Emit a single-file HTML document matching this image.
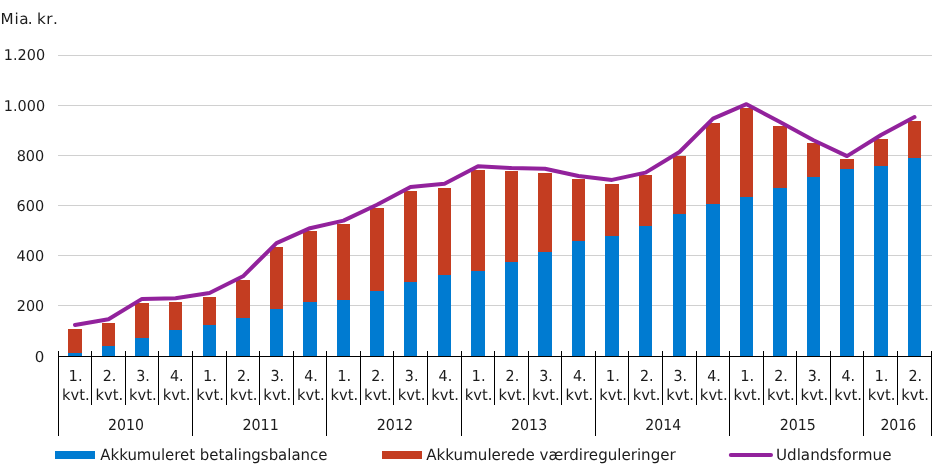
<!DOCTYPE html>
<html lang="da"><head><meta charset="utf-8"><title>Udlandsformue</title>
<style>html,body{margin:0;padding:0;background:#fff}svg{display:block}text{font-family:"DejaVu Sans","Liberation Sans",sans-serif;font-size:15.2px;fill:#1c1c1c;text-rendering:geometricPrecision}</style></head><body>
<svg width="940" height="473" viewBox="0 0 940 473">
<rect width="940" height="473" fill="#fff"/>
<g fill="#d0d0d0" shape-rendering="crispEdges">
<rect x="58" y="55" width="874" height="1"/>
<rect x="58" y="105" width="874" height="1"/>
<rect x="58" y="155" width="874" height="1"/>
<rect x="58" y="205" width="874" height="1"/>
<rect x="58" y="255" width="874" height="1"/>
<rect x="58" y="305" width="874" height="1"/>
</g>
<g shape-rendering="crispEdges">
<rect x="68" y="329" width="14" height="24" fill="#c43d21"/>
<rect x="68" y="353" width="14" height="3" fill="#007bd1"/>
<rect x="102" y="323" width="13" height="23" fill="#c43d21"/>
<rect x="102" y="346" width="13" height="10" fill="#007bd1"/>
<rect x="135" y="303" width="14" height="35" fill="#c43d21"/>
<rect x="135" y="338" width="14" height="18" fill="#007bd1"/>
<rect x="169" y="302" width="13" height="28" fill="#c43d21"/>
<rect x="169" y="330" width="13" height="26" fill="#007bd1"/>
<rect x="203" y="297" width="13" height="28" fill="#c43d21"/>
<rect x="203" y="325" width="13" height="31" fill="#007bd1"/>
<rect x="236" y="280" width="14" height="38" fill="#c43d21"/>
<rect x="236" y="318" width="14" height="38" fill="#007bd1"/>
<rect x="270" y="247" width="13" height="62" fill="#c43d21"/>
<rect x="270" y="309" width="13" height="47" fill="#007bd1"/>
<rect x="303" y="231" width="14" height="71" fill="#c43d21"/>
<rect x="303" y="302" width="14" height="54" fill="#007bd1"/>
<rect x="337" y="224" width="13" height="76" fill="#c43d21"/>
<rect x="337" y="300" width="13" height="56" fill="#007bd1"/>
<rect x="370" y="208" width="14" height="83" fill="#c43d21"/>
<rect x="370" y="291" width="14" height="65" fill="#007bd1"/>
<rect x="404" y="191" width="13" height="91" fill="#c43d21"/>
<rect x="404" y="282" width="13" height="74" fill="#007bd1"/>
<rect x="438" y="188" width="13" height="87" fill="#c43d21"/>
<rect x="438" y="275" width="13" height="81" fill="#007bd1"/>
<rect x="471" y="170" width="14" height="101" fill="#c43d21"/>
<rect x="471" y="271" width="14" height="85" fill="#007bd1"/>
<rect x="505" y="171" width="13" height="91" fill="#c43d21"/>
<rect x="505" y="262" width="13" height="94" fill="#007bd1"/>
<rect x="538" y="173" width="14" height="79" fill="#c43d21"/>
<rect x="538" y="252" width="14" height="104" fill="#007bd1"/>
<rect x="572" y="179" width="13" height="62" fill="#c43d21"/>
<rect x="572" y="241" width="13" height="115" fill="#007bd1"/>
<rect x="605" y="184" width="14" height="52" fill="#c43d21"/>
<rect x="605" y="236" width="14" height="120" fill="#007bd1"/>
<rect x="639" y="175" width="13" height="51" fill="#c43d21"/>
<rect x="639" y="226" width="13" height="130" fill="#007bd1"/>
<rect x="673" y="156" width="13" height="58" fill="#c43d21"/>
<rect x="673" y="214" width="13" height="142" fill="#007bd1"/>
<rect x="706" y="123" width="14" height="81" fill="#c43d21"/>
<rect x="706" y="204" width="14" height="152" fill="#007bd1"/>
<rect x="740" y="108" width="13" height="89" fill="#c43d21"/>
<rect x="740" y="197" width="13" height="159" fill="#007bd1"/>
<rect x="773" y="126" width="14" height="62" fill="#c43d21"/>
<rect x="773" y="188" width="14" height="168" fill="#007bd1"/>
<rect x="807" y="143" width="13" height="34" fill="#c43d21"/>
<rect x="807" y="177" width="13" height="179" fill="#007bd1"/>
<rect x="840" y="159" width="14" height="10" fill="#c43d21"/>
<rect x="840" y="169" width="14" height="187" fill="#007bd1"/>
<rect x="874" y="139" width="14" height="27" fill="#c43d21"/>
<rect x="874" y="166" width="14" height="190" fill="#007bd1"/>
<rect x="908" y="121" width="13" height="37" fill="#c43d21"/>
<rect x="908" y="158" width="13" height="198" fill="#007bd1"/>
</g>
<g fill="#000" shape-rendering="crispEdges">
<rect x="58" y="356" width="874" height="1"/>
<rect x="58" y="351" width="1" height="85"/>
<rect x="91" y="351" width="1" height="54"/>
<rect x="125" y="351" width="1" height="54"/>
<rect x="158" y="351" width="1" height="54"/>
<rect x="192" y="351" width="1" height="85"/>
<rect x="226" y="351" width="1" height="54"/>
<rect x="259" y="351" width="1" height="54"/>
<rect x="293" y="351" width="1" height="54"/>
<rect x="326" y="351" width="1" height="85"/>
<rect x="360" y="351" width="1" height="54"/>
<rect x="393" y="351" width="1" height="54"/>
<rect x="427" y="351" width="1" height="54"/>
<rect x="461" y="351" width="1" height="85"/>
<rect x="494" y="351" width="1" height="54"/>
<rect x="528" y="351" width="1" height="54"/>
<rect x="561" y="351" width="1" height="54"/>
<rect x="595" y="351" width="1" height="85"/>
<rect x="628" y="351" width="1" height="54"/>
<rect x="662" y="351" width="1" height="54"/>
<rect x="696" y="351" width="1" height="54"/>
<rect x="729" y="351" width="1" height="85"/>
<rect x="763" y="351" width="1" height="54"/>
<rect x="796" y="351" width="1" height="54"/>
<rect x="830" y="351" width="1" height="54"/>
<rect x="863" y="351" width="1" height="85"/>
<rect x="897" y="351" width="1" height="54"/>
<rect x="931" y="351" width="1" height="85"/>
</g>
<polyline points="75.0,325.0 108.5,319.2 142.0,298.9 175.5,298.3 209.5,293.0 243.0,276.3 276.5,243.1 310.0,228.2 343.5,220.6 377.0,204.7 410.5,187.1 444.5,183.8 478.0,166.2 511.5,168.1 545.0,168.7 578.5,176.0 612.0,179.9 645.5,172.6 679.5,152.0 713.0,118.6 746.5,104.2 780.0,121.9 813.5,140.3 847.0,156.1 881.0,135.0 914.5,117.1" fill="none" stroke="#92229c" stroke-width="4" stroke-linejoin="round" stroke-linecap="round"/>
<text transform="translate(3.83,60) scale(0.9675,1)" style="font-size:14.9px">1.200</text>
<text transform="translate(3.83,111) scale(0.9675,1)" style="font-size:14.9px">1.000</text>
<text transform="translate(16.63,161) scale(0.9717,1)" style="font-size:14.9px">800</text>
<text transform="translate(16.60,211) scale(0.9728,1)" style="font-size:14.9px">600</text>
<text transform="translate(16.60,261) scale(0.9727,1)" style="font-size:14.9px">400</text>
<text transform="translate(16.85,311) scale(0.9637,1)" style="font-size:14.9px">200</text>
<text transform="translate(34.72,362) scale(1.0100,1)" style="font-size:14.9px">0</text>
<text y="24" x="0.5 14.5 19.3 27.8 32 37.0 46.2 53.0">Mia. kr.</text>
<text transform="translate(68.61,381) scale(0.9685,1)">1.</text>
<text transform="translate(61.91,400) scale(0.9694,1)">kvt.</text>
<text transform="translate(102.68,381) scale(0.9362,1)">2.</text>
<text transform="translate(95.49,400) scale(0.9694,1)">kvt.</text>
<text transform="translate(136.21,381) scale(0.9398,1)">3.</text>
<text transform="translate(129.07,400) scale(0.9694,1)">kvt.</text>
<text transform="translate(169.98,381) scale(0.9398,1)">4.</text>
<text transform="translate(162.64,400) scale(0.9694,1)">kvt.</text>
<text transform="translate(202.92,381) scale(0.9685,1)">1.</text>
<text transform="translate(196.22,400) scale(0.9694,1)">kvt.</text>
<text transform="translate(236.98,381) scale(0.9362,1)">2.</text>
<text transform="translate(229.80,400) scale(0.9694,1)">kvt.</text>
<text transform="translate(270.51,381) scale(0.9398,1)">3.</text>
<text transform="translate(263.37,400) scale(0.9694,1)">kvt.</text>
<text transform="translate(304.29,381) scale(0.9398,1)">4.</text>
<text transform="translate(296.95,400) scale(0.9694,1)">kvt.</text>
<text transform="translate(337.22,381) scale(0.9685,1)">1.</text>
<text transform="translate(330.53,400) scale(0.9694,1)">kvt.</text>
<text transform="translate(371.29,381) scale(0.9362,1)">2.</text>
<text transform="translate(364.10,400) scale(0.9694,1)">kvt.</text>
<text transform="translate(404.82,381) scale(0.9398,1)">3.</text>
<text transform="translate(397.68,400) scale(0.9694,1)">kvt.</text>
<text transform="translate(438.60,381) scale(0.9398,1)">4.</text>
<text transform="translate(431.26,400) scale(0.9694,1)">kvt.</text>
<text transform="translate(471.53,381) scale(0.9685,1)">1.</text>
<text transform="translate(464.84,400) scale(0.9694,1)">kvt.</text>
<text transform="translate(505.60,381) scale(0.9362,1)">2.</text>
<text transform="translate(498.41,400) scale(0.9694,1)">kvt.</text>
<text transform="translate(539.13,381) scale(0.9398,1)">3.</text>
<text transform="translate(531.99,400) scale(0.9694,1)">kvt.</text>
<text transform="translate(572.91,381) scale(0.9398,1)">4.</text>
<text transform="translate(565.57,400) scale(0.9694,1)">kvt.</text>
<text transform="translate(605.84,381) scale(0.9685,1)">1.</text>
<text transform="translate(599.14,400) scale(0.9694,1)">kvt.</text>
<text transform="translate(639.91,381) scale(0.9362,1)">2.</text>
<text transform="translate(632.72,400) scale(0.9694,1)">kvt.</text>
<text transform="translate(673.44,381) scale(0.9398,1)">3.</text>
<text transform="translate(666.30,400) scale(0.9694,1)">kvt.</text>
<text transform="translate(707.21,381) scale(0.9398,1)">4.</text>
<text transform="translate(699.87,400) scale(0.9694,1)">kvt.</text>
<text transform="translate(740.15,381) scale(0.9685,1)">1.</text>
<text transform="translate(733.45,400) scale(0.9694,1)">kvt.</text>
<text transform="translate(774.22,381) scale(0.9362,1)">2.</text>
<text transform="translate(767.03,400) scale(0.9694,1)">kvt.</text>
<text transform="translate(807.75,381) scale(0.9398,1)">3.</text>
<text transform="translate(800.60,400) scale(0.9694,1)">kvt.</text>
<text transform="translate(841.52,381) scale(0.9398,1)">4.</text>
<text transform="translate(834.18,400) scale(0.9694,1)">kvt.</text>
<text transform="translate(874.45,381) scale(0.9685,1)">1.</text>
<text transform="translate(867.76,400) scale(0.9694,1)">kvt.</text>
<text transform="translate(908.52,381) scale(0.9362,1)">2.</text>
<text transform="translate(901.34,400) scale(0.9694,1)">kvt.</text>
<text transform="translate(108.12,430) scale(0.9297,1)">2010</text>
<text transform="translate(242.42,430) scale(0.9398,1)">2011</text>
<text transform="translate(376.72,430) scale(0.9426,1)">2012</text>
<text transform="translate(511.04,430) scale(0.9347,1)">2013</text>
<text transform="translate(645.36,430) scale(0.9255,1)">2014</text>
<text transform="translate(779.65,430) scale(0.9379,1)">2015</text>
<text transform="translate(880.39,430) scale(0.9282,1)">2016</text>
<rect x="55" y="451" width="40" height="8" fill="#007bd1"/>
<text transform="translate(100.30,460) scale(0.9586,1)" style="font-size:15.6px">Akkumuleret betalingsbalance</text>
<rect x="382" y="451" width="40" height="8" fill="#c43d21"/>
<text transform="translate(426.29,460) scale(0.9665,1)" style="font-size:15.6px">Akkumulerede værdireguleringer</text>
<line x1="730.8" y1="455" x2="771" y2="455" stroke="#92229c" stroke-width="4" stroke-linecap="round"/>
<text transform="translate(775.95,460) scale(0.9711,1)" style="font-size:15.6px">Udlandsformue</text>
</svg></body></html>
